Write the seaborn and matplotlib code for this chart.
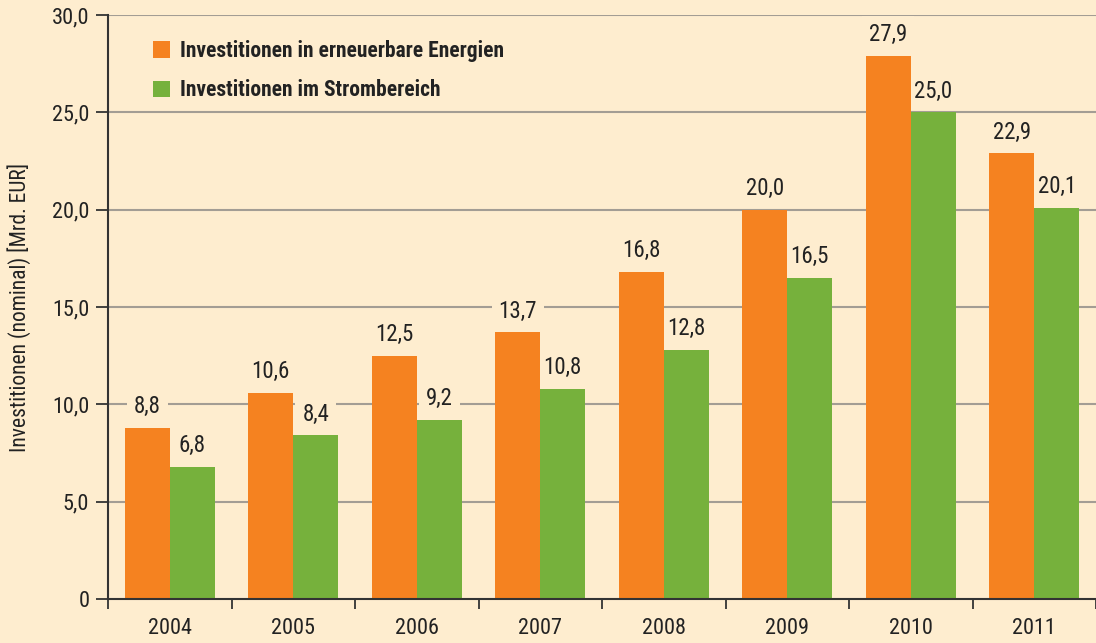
import numpy as np
import pandas as pd
import matplotlib
matplotlib.use("Agg")
import matplotlib.pyplot as plt
import seaborn as sns

years = ["2004", "2005", "2006", "2007", "2008", "2009", "2010", "2011"]
erneuerbare = [8.8, 10.6, 12.5, 13.7, 16.8, 20.0, 27.9, 22.9]
strombereich = [6.8, 8.4, 9.2, 10.8, 12.8, 16.5, 25.0, 20.1]
series_names = ["Investitionen in erneuerbare Energien", "Investitionen im Strombereich"]
y_ticks = [0, 5, 10, 15, 20, 25, 30]
y_tick_labels = ["0", "5,0", "10,0", "15,0", "20,0", "25,0", "30,0"]
y_label = "Investitionen (nominal) [Mrd. EUR]"

BG = "#FEEDCF"
ORANGE = "#F58220"
GREEN = "#76B13C"
GRID = "#A39D94"
DARK = "#333333"
TXT = "#222222"

df = pd.DataFrame({
    "Jahr": years * 2,
    "Wert": erneuerbare + strombereich,
    "Serie": [series_names[0]] * len(years) + [series_names[1]] * len(years),
})

sns.set_theme(style="white")
plt.rcParams["font.family"] = ["Roboto Condensed", "DejaVu Sans"]
plt.rcParams["font.stretch"] = "condensed"

fig = plt.figure(figsize=(10.96, 6.43), dpi=100, facecolor=BG)
ax = fig.add_axes([108 / 1096, 44 / 643, 988 / 1096, 584 / 643])
ax.set_facecolor(BG)

sns.barplot(data=df, x="Jahr", y="Wert", hue="Serie", order=years,
            hue_order=series_names, palette=[ORANGE, GREEN],
            width=0.73, gap=0, dodge=True, saturation=1, ax=ax,
            edgecolor="none", linewidth=0, zorder=3)

ax.set_ylim(0, 30)
ax.set_xlim(-0.5, 7.436)
ax.set_yticks(y_ticks)
ax.set_yticklabels(y_tick_labels, fontsize=16, color=TXT)
for y in y_ticks[1:]:
    ax.axhline(y, color=GRID, lw=1.5, zorder=1)

# x ticks: marks at boundaries, labels at centers
ax.set_xticks(np.arange(-0.5, 7.6, 1.0))
ax.set_xticklabels([""] * len(np.arange(-0.5, 7.6, 1.0)))
ax.set_xticks(np.arange(len(years)), minor=True)
ax.set_xticklabels(years, minor=True, fontsize=16, color=TXT)
ax.tick_params(axis="x", which="major", direction="out", length=7, width=1.3, color=DARK, bottom=True)
ax.tick_params(axis="x", which="minor", length=0, pad=14)
ax.tick_params(axis="y", direction="out", length=8.5, width=1.3, color=DARK, left=True, pad=5)

for s in ["top", "right"]:
    ax.spines[s].set_visible(False)
for s in ["left", "bottom"]:
    ax.spines[s].set_color(DARK)
    ax.spines[s].set_linewidth(1.5)
    ax.spines[s].set_zorder(5)

ax.set_xlabel("")
ax.set_ylabel(y_label, fontsize=15.5, color=TXT)
ax.yaxis.set_label_coords(-0.078, 0.5)

# value labels (box hides gridlines but stays behind the bars)
for cont in ax.containers:
    for rect in cont:
        h = rect.get_height()
        xc = rect.get_x() + rect.get_width() / 2
        ax.annotate(f"{h:.1f}".replace(".", ","), (xc, h), xytext=(0, 7),
                    textcoords="offset points", ha="center", va="bottom",
                    fontsize=16.5, color=TXT, zorder=2,
                    bbox=dict(boxstyle="square,pad=0.3", fc=BG, ec="none"))

leg = ax.legend(loc="upper left", bbox_to_anchor=(0.03, 0.983), frameon=False,
                prop={"weight": "bold", "size": 15.5, "stretch": "condensed"},
                handlelength=0.8, handleheight=0.8, handletextpad=0.45,
                labelspacing=0.8, labelcolor=TXT, borderaxespad=0.3)

fig.savefig("out.png", dpi=100, facecolor=BG)
